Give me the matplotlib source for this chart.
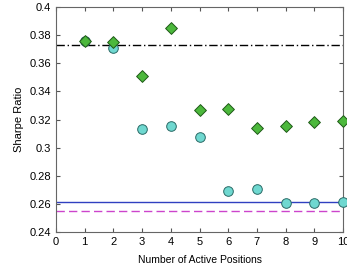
import matplotlib
matplotlib.use("Agg")
import matplotlib.pyplot as plt

positions = [1, 2, 3, 4, 5, 6, 7, 8, 9, 10]
sharpe_circle = [0.376, 0.3706, 0.313, 0.3152, 0.3073, 0.2694, 0.2704, 0.2608, 0.2608, 0.2616]
sharpe_diamond = [0.3758, 0.375, 0.351, 0.3854, 0.3268, 0.3277, 0.3137, 0.3156, 0.3182, 0.319]
line_black = 0.373
line_blue = 0.2616
line_magenta = 0.2547

plt.rcParams['font.family'] = ['Liberation Sans', 'DejaVu Sans']

fig = plt.figure(figsize=(3.47, 2.73), dpi=100)
ax = fig.add_axes([0.1614, 0.150, 0.8271, 0.824])

#горизонтальные уровни
ax.axhline(line_black, color="black", lw=1.0, ls=(0, (6, 2, 1, 2)))
ax.axhline(line_blue, color="#3040c0", lw=1.0)
ax.axhline(line_magenta, color="#cc44cc", lw=1.0, ls=(0, (6, 3)))

ax.scatter(positions, sharpe_circle, s=48, marker="o", c="#6fd8d0",
           edgecolors="#2a6a66", linewidths=0.7, zorder=3, clip_on=False)
ax.scatter(positions, sharpe_diamond, s=36, marker="D", c="#4cb83c",
           edgecolors="#1f5a18", linewidths=0.7, zorder=4, clip_on=False)

ax.set_xlim(0, 10)
ax.set_ylim(0.24, 0.4)
ax.set_xticks(range(0, 11))
ax.set_yticks([0.24, 0.26, 0.28, 0.3, 0.32, 0.34, 0.36, 0.38, 0.4])
ax.set_yticklabels(["0.24", "0.26", "0.28", "0.3", "0.32", "0.34", "0.36", "0.38", "0.4"])
ax.tick_params(direction="in", top=True, right=True, labelsize=8, length=3,
               color="#555555")
for sp in ax.spines.values():
    sp.set_color("#666666")

ax.set_xlabel("Number of Active Positions", fontsize=7.5, labelpad=6)
ax.set_ylabel("Sharpe Ratio", fontsize=8)

fig.savefig("out.png", dpi=100)
